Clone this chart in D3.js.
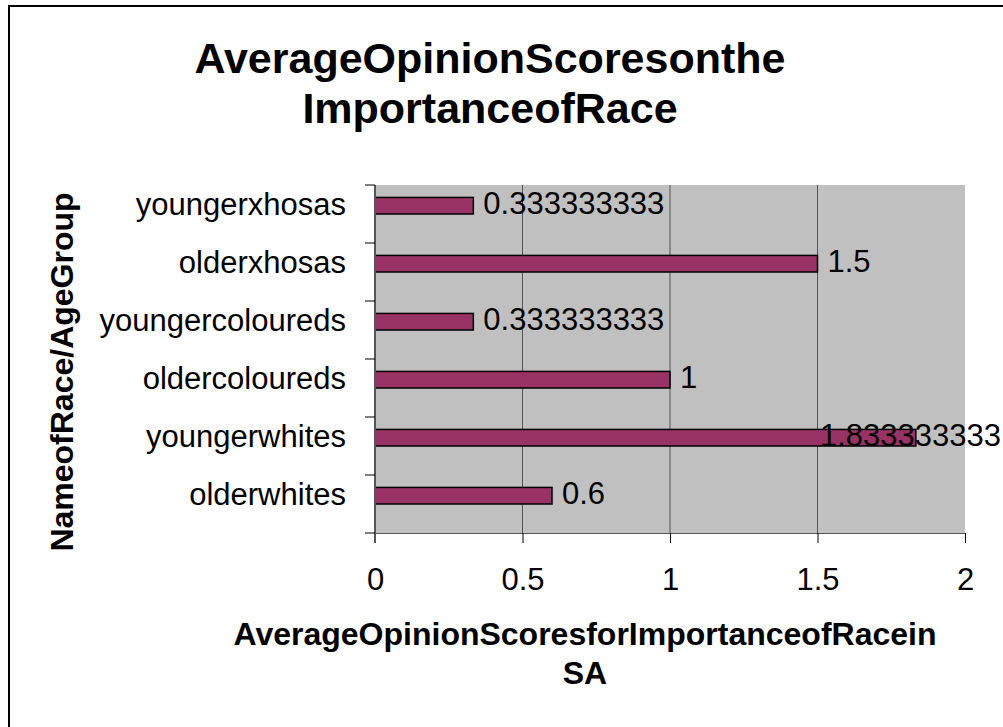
<!DOCTYPE html>
<html>
<head>
<meta charset="utf-8">
<script src="https://cdn.jsdelivr.net/npm/d3@7"></script>
<style>
  html, body { margin: 0; padding: 0; background: #fff; }
  svg { display: block; font-family: "Liberation Sans", Arial, sans-serif; }
</style>
</head>
<body>
<svg id="chart" width="1003" height="727"></svg>
<script>
// Categories listed top to bottom as they appear on the vertical axis
const categories = ["youngerxhosas", "olderxhosas", "youngercoloureds", "oldercoloureds", "youngerwhites", "olderwhites"];
const scores = [0.333333333, 1.5, 0.333333333, 1, 1.833333333, 0.6];
const xTicks = [0, 0.5, 1, 1.5, 2];
const titleLines = ["AverageOpinionScoresonthe", "ImportanceofRace"];
const xTitleLines = ["AverageOpinionScoresforImportanceofRacein", "SA"];
const yTitle = "NameofRace/AgeGroup";

const svg = d3.select("#chart");
const W = 1003;
const plot = { left: 375, right: 965, top: 185, bottom: 533 };

// outer chart frame
svg.append("rect")
  .attr("x", 9).attr("y", 6).attr("width", 1200).attr("height", 1000)
  .attr("fill", "none").attr("stroke", "#000").attr("stroke-width", 2);

const x = d3.scaleLinear().domain([0, 2]).range([plot.left, plot.right]);
const y = d3.scaleBand().domain(categories).range([plot.top, plot.bottom]);
// two series slots per category with a 150% gap; only the first slot is filled
const slot = d3.scaleBand().domain(["s1", "s2"]).range([0, y.bandwidth()])
  .paddingInner(0).paddingOuter(0.75);

// plot background
svg.append("rect")
  .attr("x", plot.left).attr("y", plot.top)
  .attr("width", plot.right - plot.left).attr("height", plot.bottom - plot.top)
  .attr("fill", "#c0c0c0");

// vertical gridlines
svg.append("g").selectAll("line")
  .data(xTicks.filter(v => v > 0 && v < 2))
  .join("line")
  .attr("x1", d => x(d)).attr("x2", d => x(d))
  .attr("y1", plot.top).attr("y2", plot.bottom)
  .attr("stroke", "#555").attr("stroke-width", 1);

// bars
svg.append("g").selectAll("rect")
  .data(categories)
  .join("rect")
  .attr("x", x(0))
  .attr("y", d => y(d) + slot("s1"))
  .attr("width", (d, i) => x(scores[i]) - x(0))
  .attr("height", slot.bandwidth())
  .attr("fill", "#993366")
  .attr("stroke", "#000").attr("stroke-width", 1.5);

// x axis
const xAxis = svg.append("g")
  .attr("transform", `translate(0,${plot.bottom})`)
  .call(d3.axisBottom(x).tickValues(xTicks).tickSize(10).tickPadding(25)
    .tickFormat(d3.format("~g")));
xAxis.select(".domain").attr("stroke", "#555").attr("stroke-width", 1);
xAxis.selectAll(".tick line").attr("stroke", "#000");
xAxis.selectAll(".tick text")
  .attr("font-size", 31).attr("fill", "#000")
  .attr("font-family", "Liberation Sans, Arial, sans-serif");

// y axis: tick marks on category boundaries
const yAxisG = svg.append("g");
yAxisG.append("line")
  .attr("x1", plot.left).attr("x2", plot.left)
  .attr("y1", plot.top).attr("y2", plot.bottom + 10)
  .attr("stroke", "#555").attr("stroke-width", 2);
const boundaries = categories.map(c => y(c)).concat([plot.bottom]);
yAxisG.selectAll("line.tk")
  .data(boundaries)
  .join("line").attr("class", "tk")
  .attr("x1", plot.left - 10).attr("x2", plot.left)
  .attr("y1", d => d).attr("y2", d => d)
  .attr("stroke", "#000").attr("stroke-width", 1);
yAxisG.selectAll("text")
  .data(categories)
  .join("text")
  .attr("x", 346)
  .attr("y", d => y(d) + y.bandwidth() / 2 + 1)
  .attr("text-anchor", "end")
  .attr("font-size", 31)
  .text(d => d);

// value labels, kept inside the chart's right edge
const fmt = d3.format(".9~f");
svg.append("g").selectAll("text")
  .data(categories)
  .join("text")
  .attr("y", d => y(d) + slot("s1") + slot.bandwidth() / 2 + 8)
  .attr("font-size", 31)
  .text((d, i) => fmt(scores[i]))
  .attr("x", function (d, i) {
    const w = this.getComputedTextLength();
    return Math.min(x(scores[i]) + 10, W - 2 - w);
  });

// chart title
svg.append("g").selectAll("text")
  .data(titleLines)
  .join("text")
  .attr("x", 490)
  .attr("y", (d, i) => 73 + i * 50)
  .attr("text-anchor", "middle")
  .attr("font-size", 43).attr("font-weight", "bold")
  .text(d => d);

// x axis title
svg.append("g").selectAll("text")
  .data(xTitleLines)
  .join("text")
  .attr("x", (plot.left + plot.right) / 2 - 85)
  .attr("y", (d, i) => 645 + i * 39)
  .attr("text-anchor", "middle")
  .attr("font-size", 32).attr("font-weight", "bold")
  .text(d => d);

// y axis title
svg.append("text")
  .attr("transform", `translate(73,${(plot.top + plot.bottom) / 2 + 13}) rotate(-90)`)
  .attr("text-anchor", "middle")
  .attr("font-size", 32).attr("font-weight", "bold")
  .text(yTitle);
</script>
</body>
</html>
